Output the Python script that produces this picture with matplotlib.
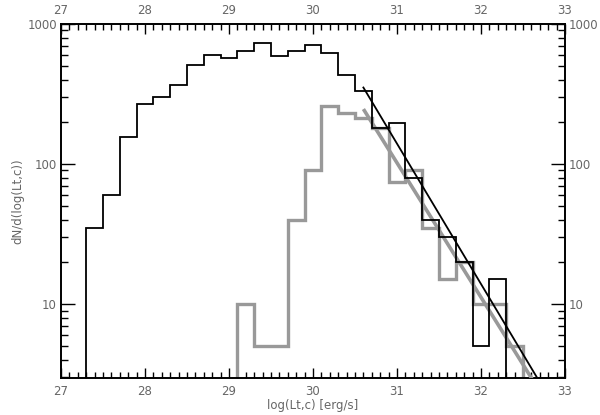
import numpy as np
import matplotlib
matplotlib.use("Agg")
import matplotlib.pyplot as plt
from matplotlib.ticker import MultipleLocator, LogLocator, FixedLocator, NullFormatter

# ---- data ----
black_edges = [27.3 + 0.2 * i for i in range(26)]
black_vals = [35, 60, 155, 270, 300, 365, 510, 600, 570, 640, 730, 590, 640,
              710, 620, 430, 330, 180, 195, 80, 40, 30, 20, 5, 15]

gray_edges = [29.1 + 0.2 * i for i in range(18)]
gray_vals = [10, 5, 5, 40, 90, 260, 230, 215, 180, 75, 90, 35, 15, 20, 10, 10, 5]

black_fit_x = [30.6, 32.8]
black_fit_y = [352, 2.2]
gray_fit_x = [30.6, 32.8]
gray_fit_y = [247, 1.91]

xticks = [27, 28, 29, 30, 31, 32, 33]
yticks = [10, 100, 1000]
ytick_labels = ["10", "100", "1000"]

xlabel = "log(Lt,c) [erg/s]"
ylabel = "dN/d(log(Lt,c))"

# ---- plot ----
txt = "#666666"
fig = plt.figure(figsize=(6.0, 4.15), dpi=100)
ax = fig.add_axes([61 / 600, 1 - 378 / 415, 504 / 600, 354 / 415])

gray = "#999999"
ax.stairs(gray_vals, gray_edges, baseline=1, color=gray, lw=2.4, zorder=2)
ax.plot(gray_fit_x, gray_fit_y, color=gray, lw=2.6, zorder=3, solid_capstyle="butt")
ax.stairs(black_vals, black_edges, baseline=1, color="black", lw=1.3, zorder=4)
ax.plot(black_fit_x, black_fit_y, color="black", lw=1.3, zorder=5)

ax.set_yscale("log")
ax.set_xlim(27, 33)
ax.set_ylim(2.97, 1000)

ax.xaxis.set_major_locator(FixedLocator(xticks))
ax.xaxis.set_minor_locator(MultipleLocator(0.1))
ax.yaxis.set_major_locator(FixedLocator(yticks))
ax.set_yticklabels(ytick_labels)
ax.yaxis.set_minor_locator(LogLocator(base=10, subs=np.arange(2, 10)))
ax.yaxis.set_minor_formatter(NullFormatter())

ax.tick_params(which="both", direction="in", top=True, right=True,
               labeltop=True, labelright=True, colors="black",
               labelcolor=txt, labelsize=8.5, width=1.0)
ax.tick_params(axis="x", which="major", length=7, pad=5)
ax.tick_params(axis="x", which="minor", length=4)
ax.tick_params(axis="y", which="major", length=10, pad=3)
ax.tick_params(axis="y", which="minor", length=5)

for s in ax.spines.values():
    s.set_linewidth(1.4)

ax.set_xlabel(xlabel, color=txt, fontsize=8.5, labelpad=1)
ax.set_ylabel(ylabel, color=txt, fontsize=8.5, labelpad=2)

fig.savefig("out.png", dpi=100)
